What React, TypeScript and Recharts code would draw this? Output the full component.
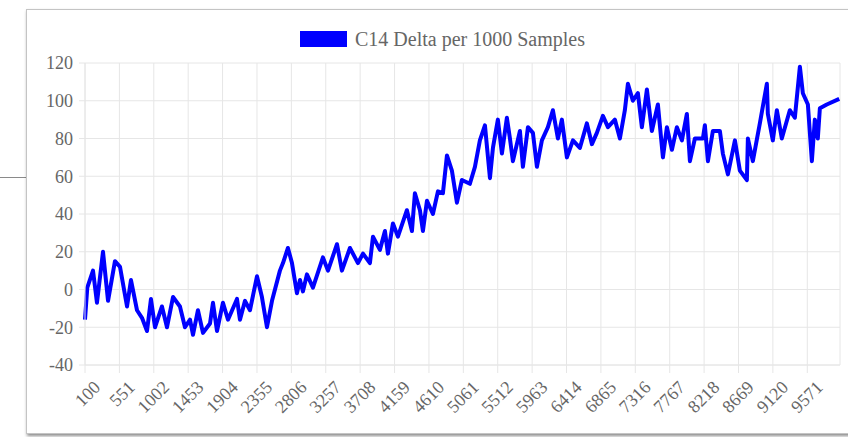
import { LineChart, Line, XAxis, YAxis, CartesianGrid, Legend } from 'recharts'

const SERIES_NAME = 'C14 Delta per 1000 Samples'

// sample index (x) and C14 delta (y)
const sampleIds = [
  100, 130, 205, 257, 336, 402, 493, 559, 651, 703, 782, 847, 913, 965, 1018, 1109, 1175, 1254,
  1345, 1411, 1477, 1516, 1581, 1647, 1739, 1778, 1831, 1909, 1975, 2093, 2132, 2198, 2263, 2355,
  2420, 2486, 2552, 2656, 2696, 2761, 2814, 2879, 2919, 2958, 3010, 3089, 3220, 3286, 3404, 3469,
  3574, 3679, 3745, 3836, 3876, 3967, 4033, 4072, 4138, 4203, 4321, 4387, 4426, 4492, 4531, 4584,
  4662, 4728, 4793, 4846, 4911, 4977, 5042, 5147, 5213, 5278, 5344, 5410, 5449, 5514, 5567, 5632,
  5672, 5711, 5803, 5842, 5908, 5973, 6026, 6091, 6170, 6235, 6301, 6353, 6419, 6498, 6589, 6681,
  6747, 6812, 6891, 6957, 7048, 7114, 7179, 7219, 7284, 7350, 7402, 7468, 7533, 7612, 7678, 7730,
  7796, 7861, 7927, 7992, 8032, 8097, 8202, 8228, 8268, 8333, 8425, 8464, 8530, 8622, 8687, 8779,
  8792, 8857, 8949, 9041, 9054, 9119, 9172, 9237, 9342, 9408, 9474, 9513, 9579, 9631, 9670, 9709,
  9736, 9827, 9990,
]

const deltas = [
  -16, 1, 10, -7, 20, -6, 15, 12, -9, 5, -11, -15, -22, -5, -20, -9, -20, -4,
  -9, -20, -16, -24, -11, -23, -18, -7, -22, -7, -16, -5, -16, -6, -11, 7,
  -4, -20, -6, 10, 14, 22, 14, -2, 5, -1, 8, 1, 17, 10, 24, 10,
  22, 14, 19, 14, 28, 21, 31, 19, 35, 28, 42, 31, 51, 42, 31, 47,
  40, 52, 51, 71, 63, 46, 58, 56, 65, 79, 87, 59, 75, 90, 72, 91,
  80, 68, 84, 65, 86, 83, 65, 79, 86, 95, 80, 90, 70, 79, 75, 88,
  77, 83, 92, 86, 90, 80, 95, 109, 100, 104, 86, 106, 84, 98, 70, 86,
  74, 86, 79, 93, 68, 80, 80, 87, 68, 84, 84, 72, 61, 79, 63, 58,
  80, 68, 88, 109, 93, 79, 95, 80, 95, 91, 118, 104, 98, 68, 90, 80,
  96, 98, 101,
]

const xTicks = [
  100, 551, 1002, 1453, 1904, 2355, 2806, 3257, 3708, 4159, 4610, 5061, 5512, 5963, 6414, 6865,
  7316, 7767, 8218, 8669, 9120, 9571,
]
const yTicks = [-40, -20, 0, 20, 40, 60, 80, 100, 120]

const data = sampleIds.map((id, i) => ({ sample: id, delta: deltas[i] }))

const FONT = '"Liberation Serif", "DejaVu Serif", serif'
const TEXT_COLOR = '#666'
const GRID_COLOR = '#e6e6e6'
const LINE_COLOR = '#0000ff'

function RotatedTick({ x, y, payload }: any) {
  return (
    <g transform={`translate(${x + 12},${y + 9})`}>
      <text
        x={0}
        y={0}
        dy="0.35em"
        textAnchor="end"
        transform="rotate(-45)"
        fill={TEXT_COLOR}
        fontSize={18}
        fontFamily={FONT}
      >
        {payload.value}
      </text>
    </g>
  )
}

function LegendBox() {
  return (
    <div style={{ display: 'flex', alignItems: 'center', height: 30, marginTop: -8, fontFamily: FONT }}>
      <span style={{ width: 47, height: 16, background: LINE_COLOR, display: 'inline-block', marginRight: 8 }} />
      <span style={{ fontSize: 20, color: TEXT_COLOR }}>{SERIES_NAME}</span>
    </div>
  )
}

export default function App() {
  return (
    <div style={{ position: 'absolute', left: 0, top: 0, width: 848, height: 437, overflow: 'hidden', background: '#fff' }}>
      <div style={{ position: 'absolute', left: 0, top: 177, width: 26, height: 1, background: '#8a8a8a' }} />
      <div
        style={{
          position: 'absolute',
          left: 26,
          top: 9,
          width: 860,
          height: 423,
          border: '1px solid #c4c4c4',
          boxShadow: '1px 2px 3px rgba(0,0,0,0.45)',
          background: '#fff',
        }}
      />
      <div style={{ position: 'absolute', left: 0, top: 0 }}>
        <LineChart width={848} height={437} data={data} margin={{ top: 41, right: 8, bottom: 0, left: 0 }}>
          <Legend verticalAlign="top" content={<LegendBox />} wrapperStyle={{ left: 300, top: 32, width: 320 }} />
          <CartesianGrid stroke={GRID_COLOR} strokeWidth={1} />
          <XAxis
            dataKey="sample"
            type="number"
            domain={[100, 10000]}
            ticks={xTicks}
            interval={0}
            height={72}
            tickSize={8}
            tick={<RotatedTick />}
            axisLine={{ stroke: GRID_COLOR }}
            tickLine={{ stroke: GRID_COLOR }}
          />
          <YAxis
            domain={[-40, 120]}
            ticks={yTicks}
            width={85}
            tickSize={6}
            tickMargin={6}
            tick={{ fill: TEXT_COLOR, fontSize: 18, fontFamily: FONT }}
            axisLine={{ stroke: GRID_COLOR }}
            tickLine={{ stroke: GRID_COLOR }}
          />
          <Line
            type="linear"
            dataKey="delta"
            name={SERIES_NAME}
            stroke={LINE_COLOR}
            strokeWidth={4}
            strokeLinejoin="round"
            dot={false}
            isAnimationActive={false}
          />
        </LineChart>
      </div>
    </div>
  )
}
